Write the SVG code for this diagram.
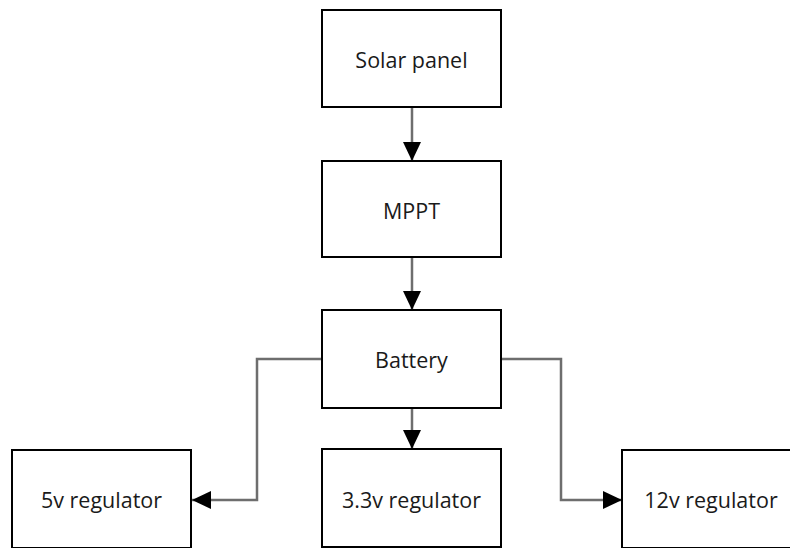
<svg xmlns="http://www.w3.org/2000/svg" width="790" height="548" viewBox="0 0 790 548">
<style>
.box{fill:#fff;stroke:#000;stroke-width:2}
.lbl{font-family:"Open Sans","Noto Sans",sans-serif;font-size:21.5px;fill:#1a1a1a;text-anchor:middle;dominant-baseline:central}
.con{fill:none;stroke:#6e6e6e;stroke-width:2.5;marker-end:url(#ah)}
</style>
<defs>
<marker id="ah" markerUnits="userSpaceOnUse" markerWidth="20" markerHeight="18" refX="19" refY="9" orient="auto">
<path d="M0,0 L19,9 L0,18 Z" fill="#000"/>
</marker>
</defs>
<rect width="790" height="548" fill="#fff"/>
<g id="connectors">
<path class="con" d="M412,108 V161"/>
<path class="con" d="M412,258 V310"/>
<path class="con" d="M412,409 V449"/>
<path class="con" d="M322,359 H257 V500 H192"/>
<path class="con" d="M501,359 H561 V500 H622"/>
</g>
<g id="solar"><rect class="box" x="322" y="10" width="179" height="97"/><text class="lbl" x="411.5" y="59">Solar panel</text></g>
<g id="mppt"><rect class="box" x="322" y="161" width="179" height="96"/><text class="lbl" x="411.5" y="210">MPPT</text></g>
<g id="battery"><rect class="box" x="322" y="310" width="179" height="98"/><text class="lbl" x="411.5" y="359">Battery</text></g>
<g id="reg5"><rect class="box" x="12" y="450" width="179" height="98"/><text class="lbl" x="101.5" y="499">5v regulator</text></g>
<g id="reg33"><rect class="box" x="322" y="449" width="179" height="98"/><text class="lbl" x="411.5" y="499">3.3v regulator</text></g>
<g id="reg12"><rect class="box" x="622" y="450" width="190" height="98"/><text class="lbl" x="711" y="499">12v regulator</text></g>
</svg>
